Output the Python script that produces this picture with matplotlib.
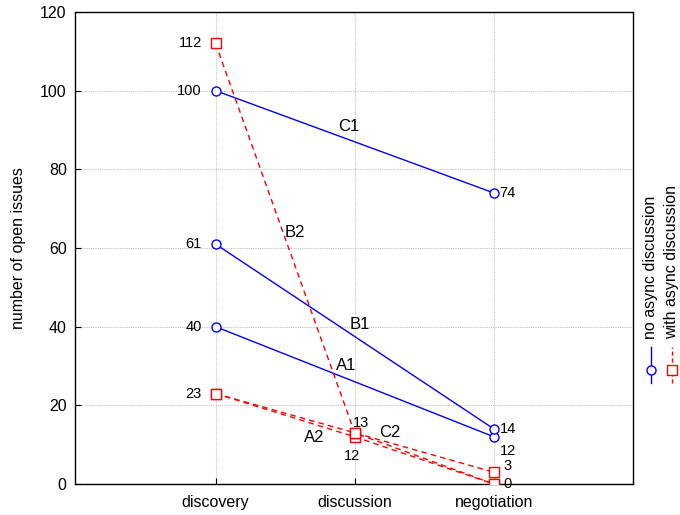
import matplotlib
matplotlib.use("Agg")
import matplotlib.pyplot as plt
from matplotlib.lines import Line2D

plt.rcParams['font.family'] = ['Liberation Sans', 'DejaVu Sans']

phases = ["discovery", "discussion", "negotiation"]
y_ticks = [0, 20, 40, 60, 80, 100, 120]

# no async discussion (blue, solid): discovery -> negotiation
A1 = [40, 12]
B1 = [61, 14]
C1 = [100, 74]
# with async discussion (red, dashed): discovery -> discussion -> negotiation
A2 = [23, 12, 0]
B2 = [112, 13, 0]
C2 = [23, 13, 3]

BLUE = "#0000ff"
RED = "#ff0000"

fig = plt.figure(figsize=(6.8, 5.15), dpi=100)
ax = fig.add_axes([75 / 680, 1 - 484 / 515, (633 - 75) / 680, (484 - 12) / 515])

xs_blue = [0, 2]
xs_red = [0, 1, 2]
for vals in (A1, B1, C1):
    ax.plot(xs_blue, vals, color=BLUE, lw=1.0, marker='o', ms=6.5,
            mfc='white', mec=BLUE, mew=1.0, zorder=3)
for vals in (A2, B2, C2):
    ax.plot(xs_red, vals, color=RED, lw=1.0, ls=(0, (4, 3)), marker='s', ms=6.5,
            mfc='white', mec=RED, mew=1.0, zorder=3)

fs_num = 10.5
# value labels at discovery (left of point)
for v in (B2[0], C1[0], B1[0], A1[0], A2[0]):
    ax.text(-0.1, v, str(v), ha='right', va='center', fontsize=fs_num)
# value labels at negotiation
ax.text(2.04, C1[1], str(C1[1]), ha='left', va='center', fontsize=fs_num)
ax.text(2.04, B1[1], str(B1[1]), ha='left', va='center', fontsize=fs_num)
ax.text(2.04, A1[1] - 3.5, str(A1[1]), ha='left', va='center', fontsize=fs_num)
ax.text(2.07, C2[2] + 1.5, str(C2[2]), ha='left', va='center', fontsize=fs_num)
ax.text(2.07, A2[2], str(A2[2]), ha='left', va='center', fontsize=fs_num)
# value labels at discussion
ax.text(0.99, C2[1] + 2.5, str(C2[1]), ha='left', va='center', fontsize=fs_num)
ax.text(0.98, A2[1] - 5.0, str(A2[1]), ha='center', va='center', fontsize=fs_num)

# series names
fs_name = 12
ax.text(0.96, 91, "C1", ha='center', va='center', fontsize=fs_name)
ax.text(0.57, 64, "B2", ha='center', va='center', fontsize=fs_name)
ax.text(1.04, 40.5, "B1", ha='center', va='center', fontsize=fs_name)
ax.text(0.94, 30, "A1", ha='center', va='center', fontsize=fs_name)
ax.text(0.71, 11.8, "A2", ha='center', va='center', fontsize=fs_name)
ax.text(1.25, 13, "C2", ha='center', va='center', fontsize=fs_name)

ax.set_xlim(-1.01, 3.0)
ax.set_ylim(0, 120)
ax.set_xticks(range(len(phases)))
ax.set_xticklabels(phases, fontsize=11.5)
ax.set_yticks(y_ticks)
ax.set_yticklabels([str(t) for t in y_ticks], fontsize=11.5)
ax.tick_params(direction='in', length=4, width=0.8, pad=6)
ax.tick_params(axis='x', pad=8)
ax.grid(True, color='#c4c4c4', ls=(0, (1, 1)), lw=0.8)
ax.set_axisbelow(True)
for s in ax.spines.values():
    s.set_linewidth(1.0)
ax.set_ylabel("number of open issues", fontsize=11.5, labelpad=10)

# vertical legend on the right
handles = [
    (651 / 680, BLUE, '-', 'o', "no async discussion"),
    (672 / 680, RED, (0, (3, 2)), 's', "with async discussion"),
]
for x, col, ls, mk, label in handles:
    y0, y1 = 1 - 383 / 515, 1 - 347 / 515
    fig.add_artist(Line2D([x, x], [y0, y1], color=col, lw=1.0, ls=ls,
                          transform=fig.transFigure))
    fig.add_artist(Line2D([x], [1 - 370 / 515], color=col, marker=mk, ms=6.5,
                          mfc='white', mec=col, mew=1.0, ls='none',
                          transform=fig.transFigure))
    fig.text(x, 1 - 339 / 515, label, rotation=90, ha='center', va='bottom',
             fontsize=11.5)

fig.savefig("out.png", dpi=100)
